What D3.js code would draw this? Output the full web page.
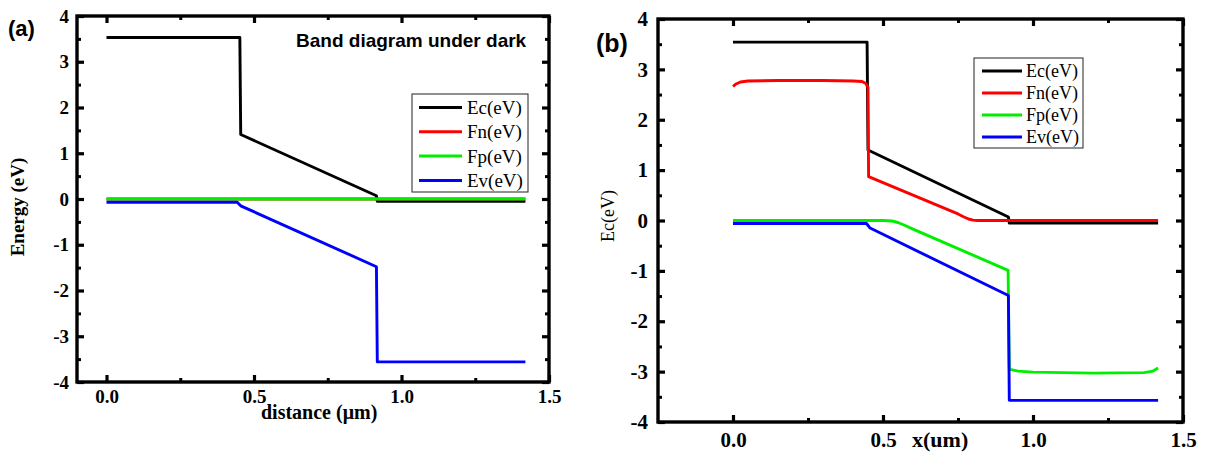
<!DOCTYPE html>
<html>
<head>
<meta charset="utf-8">
<script src="https://cdn.jsdelivr.net/npm/d3@7"></script>
<style>
  html, body { margin: 0; padding: 0; background: #fff; }
  svg { display: block; }
</style>
</head>
<body>
<svg id="chart" width="1206" height="455"></svg>
<script>
// Band diagrams — (a) under dark, (b) second bias condition

const SERIES_NAMES  = ['Ec(eV)', 'Fn(eV)', 'Fp(eV)', 'Ev(eV)'];
const SERIES_COLORS = ['#000000', '#ff0000', '#00ee00', '#0000ff'];

const X_TICKS = [0, 0.5, 1.0, 1.5];
const X_MINOR = [0.25, 0.75, 1.25];
const Y_TICKS = [-4, -3, -2, -1, 0, 1, 2, 3, 4];
const Y_MINOR = [-3.5, -2.5, -1.5, -0.5, 0.5, 1.5, 2.5, 3.5];

// panel (a): [x (um), energy (eV)]
const ecDark = [[0, 3.53], [0.452, 3.53], [0.455, 1.41], [0.915, 0.07], [0.918, -0.05], [1.42, -0.05]];
const fnDark = [[0, 0.0], [1.42, 0.0]];
const fpDark = [[0, 0.0], [1.42, 0.0]];
const evDark = [[0, -0.07], [0.443, -0.07], [0.455, -0.15], [0.915, -1.48], [0.918, -3.56], [1.42, -3.56]];

// panel (b)
const ecBias = [[0, 3.54], [0.447, 3.54], [0.45, 1.40], [0.918, 0.07], [0.921, -0.05], [1.417, -0.05]];
const fnBias = [[0, 2.66], [0.01, 2.71], [0.025, 2.75], [0.05, 2.77], [0.15, 2.78], [0.3, 2.78], [0.4, 2.77],
                [0.43, 2.76], [0.443, 2.72], [0.45, 2.64], [0.452, 0.87], [0.75, 0.13], [0.77, 0.07],
                [0.785, 0.03], [0.80, 0.008], [0.815, 0.0], [1.417, 0.0]];
const fpBias = [[0, 0.0], [0.5, 0.0], [0.53, -0.01], [0.55, -0.04], [0.57, -0.09], [0.6, -0.17], [0.917, -0.99],
                [0.921, -2.95], [0.95, -2.99], [1.0, -3.01], [1.2, -3.03], [1.37, -3.02], [1.40, -2.99], [1.417, -2.93]];
const evBias = [[0, -0.06], [0.445, -0.06], [0.457, -0.15], [0.918, -1.49], [0.921, -3.57], [1.417, -3.57]];

const svg = d3.select('#chart');

function drawPanel(o) {
  const x = d3.scaleLinear().domain(o.xDomain).range([o.left, o.right]);
  const y = d3.scaleLinear().domain([-4, 4]).range([o.bottom, o.top]);
  const g = svg.append('g');
  const tickFont = o.tickFont;

  // minor ticks (unlabelled), all four sides
  const minor = (axis, vals, tr) => {
    const a = g.append('g').attr('transform', tr)
      .call(axis.tickValues(vals).tickSize(-4).tickFormat(''));
    a.select('.domain').remove();
    a.selectAll('line').attr('stroke', '#000').attr('stroke-width', 3);
  };
  const major = (axis, vals, tr, fmt) => {
    const a = g.append('g').attr('transform', tr)
      .call(axis.tickValues(vals).tickSize(-7).tickPadding(o.pad).tickFormat(fmt));
    a.select('.domain').remove();
    a.selectAll('line').attr('stroke', '#000').attr('stroke-width', 3.2);
    a.selectAll('text')
      .attr('font-family', '"Liberation Serif", "Times New Roman", serif')
      .attr('font-weight', 'bold')
      .attr('font-size', tickFont)
      .attr('fill', '#000');
    return a;
  };
  const noLab = () => '';

  minor(d3.axisBottom(x), X_MINOR, `translate(0,${o.bottom})`);
  minor(d3.axisTop(x), X_MINOR, `translate(0,${o.top})`);
  minor(d3.axisLeft(y), Y_MINOR, `translate(${o.left},0)`);
  minor(d3.axisRight(y), Y_MINOR, `translate(${o.right},0)`);

  major(d3.axisBottom(x), X_TICKS, `translate(0,${o.bottom})`, d3.format('.1f'));
  major(d3.axisTop(x), X_TICKS, `translate(0,${o.top})`, noLab);
  major(d3.axisLeft(y), Y_TICKS, `translate(${o.left},0)`, d => String(d));
  major(d3.axisRight(y), Y_TICKS, `translate(${o.right},0)`, noLab);

  // frame
  g.append('rect')
    .attr('x', o.left).attr('y', o.top)
    .attr('width', o.right - o.left).attr('height', o.bottom - o.top)
    .attr('fill', 'none').attr('stroke', '#000').attr('stroke-width', 3.4);

  // curves
  const line = d3.line().x(d => x(d[0])).y(d => y(d[1]));
  o.series.forEach((s, i) => {
    g.append('path')
      .datum(s)
      .attr('d', line)
      .attr('fill', 'none')
      .attr('stroke', SERIES_COLORS[i])
      .attr('stroke-width', 2.9)
      .attr('stroke-linejoin', 'round');
  });

  // legend
  const L = o.legend;
  g.append('rect')
    .attr('x', L.x).attr('y', L.y).attr('width', L.w).attr('height', L.h)
    .attr('fill', '#fff').attr('stroke', '#222').attr('stroke-width', 1);
  SERIES_NAMES.forEach((name, i) => {
    const ry = L.y + L.first + i * L.step;
    g.append('line')
      .attr('x1', L.x + L.lineX0).attr('x2', L.x + L.lineX1)
      .attr('y1', ry).attr('y2', ry)
      .attr('stroke', SERIES_COLORS[i]).attr('stroke-width', 3);
    g.append('text')
      .attr('x', L.x + L.textX).attr('y', ry)
      .attr('dy', '0.35em')
      .attr('font-family', '"Liberation Serif", "Times New Roman", serif')
      .attr('font-size', L.font)
      .text(name);
  });
  return g;
}

drawPanel({
  left: 77, right: 549, top: 16, bottom: 382,
  xDomain: [-0.1, 1.5], tickFont: 19, pad: 8,
  series: [ecDark, fnDark, fpDark, evDark],
  legend: { x: 412, y: 94, w: 116, h: 98, first: 13.5, step: 24.3, lineX0: 7, lineX1: 50, textX: 55, font: 19 }
});

drawPanel({
  left: 658, right: 1183, top: 19, bottom: 422,
  xDomain: [-0.25, 1.5], tickFont: 21, pad: 10,
  series: [ecBias, fnBias, fpBias, evBias],
  legend: { x: 974, y: 58, w: 109, h: 90, first: 13, step: 22, lineX0: 8, lineX1: 48, textX: 52, font: 18 }
});

// panel (a) labels
svg.append('text')
  .attr('x', 8).attr('y', 36)
  .attr('font-family', '"Liberation Sans", Arial, sans-serif')
  .attr('font-weight', 'bold').attr('font-size', 22)
  .text('(a)');
svg.append('text')
  .attr('x', 296).attr('y', 47)
  .attr('font-family', '"Liberation Sans", Arial, sans-serif')
  .attr('font-weight', 'bold').attr('font-size', 19)
  .text('Band diagram under dark');
svg.append('text')
  .attr('transform', 'translate(24,207) rotate(-90)')
  .attr('text-anchor', 'middle')
  .attr('font-family', '"Liberation Serif", "Times New Roman", serif')
  .attr('font-weight', 'bold').attr('font-size', 19)
  .text('Energy (eV)');
svg.append('text')
  .attr('x', 261).attr('y', 419)
  .attr('font-family', '"Liberation Serif", "Times New Roman", serif')
  .attr('font-weight', 'bold').attr('font-size', 20)
  .text('distance (μm)');

// panel (b) labels
svg.append('text')
  .attr('x', 596).attr('y', 52)
  .attr('font-family', '"Liberation Sans", Arial, sans-serif')
  .attr('font-weight', 'bold').attr('font-size', 25)
  .text('(b)');
svg.append('text')
  .attr('transform', 'translate(614,216) rotate(-90)')
  .attr('text-anchor', 'middle')
  .attr('font-family', '"Liberation Serif", "Times New Roman", serif')
  .attr('font-size', 18)
  .text('Ec(eV)');
svg.append('text')
  .attr('x', 912).attr('y', 447)
  .attr('font-family', '"Liberation Serif", "Times New Roman", serif')
  .attr('font-weight', 'bold').attr('font-size', 22)
  .text('x(um)');
</script>
</body>
</html>
